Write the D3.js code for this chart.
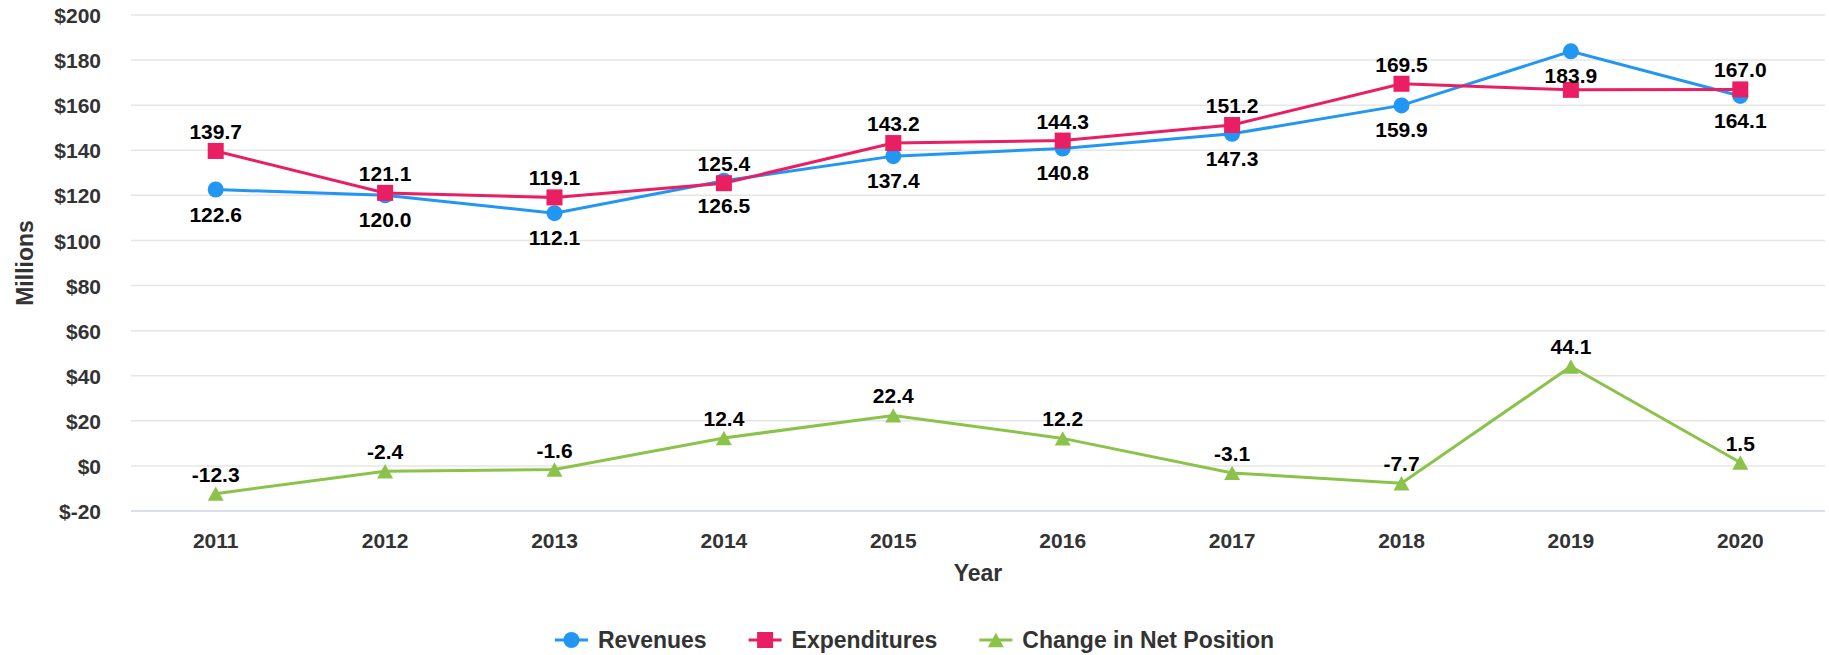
<!DOCTYPE html>
<html><head><meta charset="utf-8">
<script src="https://cdn.jsdelivr.net/npm/d3@7/dist/d3.min.js"></script>
<style>body{margin:0;background:#fff}svg{display:block;font-family:"Liberation Sans",Arial,Helvetica,sans-serif;font-weight:bold}</style>
</head><body><svg id="c" width="1829" height="655"></svg>
<script>
const years = ["2011","2012","2013","2014","2015","2016","2017","2018","2019","2020"];
const revenues = [122.6,120.0,112.1,126.5,137.4,140.8,147.3,159.9,183.9,164.1];
const expenditures = [139.7,121.1,119.1,125.4,143.2,144.3,151.2,169.5,166.8,167.0];
const changeNet = [-12.3,-2.4,-1.6,12.4,22.4,12.2,-3.1,-7.7,44.1,1.5];
const yTicks = [-20,0,20,40,60,80,100,120,140,160,180,200];
const seriesNames = ["Revenues","Expenditures","Change in Net Position"];
const hiddenLabels = {"Expenditures":["2019"]};

const svg = d3.select("#c");
const L=131,R=1825,T=15,B=511;
const x = d3.scaleBand().domain(years).range([L,R]);
const y = d3.scaleLinear().domain([-20,200]).range([B,T]);
const cx = d => x(d)+x.bandwidth()/2;

// grid
svg.append("g").selectAll("line").data(yTicks.filter(t=>t>-20)).join("line")
  .attr("x1",L).attr("x2",R).attr("y1",d=>y(d)).attr("y2",d=>y(d))
  .attr("stroke","#e6e6e6").attr("stroke-width",1.5);
svg.append("line").attr("x1",L).attr("x2",R).attr("y1",y(-20)).attr("y2",y(-20))
  .attr("stroke","#ccd6eb").attr("stroke-width",1.5);

// y axis labels
const ya = svg.append("g").attr("transform",`translate(${101},0)`)
  .call(d3.axisLeft(y).tickValues(yTicks).tickSize(0).tickPadding(0).tickFormat(d=>"$"+d));
ya.select(".domain").remove();
ya.selectAll("text").attr("font-size",21).attr("fill","#333").attr("font-family","inherit").attr("font-weight","bold").attr("dy","0.36em");

// x axis labels
const xa = svg.append("g").attr("transform",`translate(0,${B})`)
  .call(d3.axisBottom(x).tickSize(0).tickPadding(0));
xa.select(".domain").remove();
xa.selectAll("text").attr("font-size",21).attr("fill","#333").attr("font-family","inherit").attr("font-weight","bold").attr("dy","37px");

svg.append("text").attr("x",(L+R)/2).attr("y",581).attr("text-anchor","middle")
  .attr("font-size",23).attr("fill","#333").text("Year");
svg.append("text").attr("transform",`translate(33,${(T+B)/2}) rotate(-90)`).attr("text-anchor","middle")
  .attr("font-size",23).attr("fill","#333").text("Millions");

const series = [
  {name:seriesNames[0],vals:revenues,color:"#2196F3",shape:"circle",below:true},
  {name:seriesNames[1],vals:expenditures,color:"#E91E63",shape:"square",below:false},
  {name:seriesNames[2],vals:changeNet,color:"#8BC34A",shape:"triangle",below:false}
];
function marker(g,shape,color,size){
  if(shape==="circle") return g.append("circle").attr("r",size/2).attr("fill",color);
  if(shape==="square") return g.append("rect").attr("x",-size/2).attr("y",-size/2).attr("width",size).attr("height",size).attr("fill",color);
  const h=size*0.9;
  return g.append("path").attr("d",`M0,${-h/2}L${size/2},${h/2}L${-size/2},${h/2}Z`).attr("fill",color);
}
const line = d3.line().x(d=>cx(d[0])).y(d=>y(d[1]));
series.forEach(s=>{
  const pts = years.map((yr,i)=>[yr,s.vals[i]]);
  svg.append("path").attr("d",line(pts)).attr("fill","none").attr("stroke",s.color).attr("stroke-width",3);
});
series.forEach(s=>{
  const pts = years.map((yr,i)=>[yr,s.vals[i]]);
  pts.forEach(p=>{
    const g = svg.append("g").attr("transform",`translate(${cx(p[0])},${y(p[1])})`);
    marker(g,s.shape,s.color,16);
  });
});
series.forEach(s=>{
  const hid = hiddenLabels[s.name]||[];
  years.forEach((yr,i)=>{
    if(hid.includes(yr)) return;
    svg.append("text").attr("x",cx(yr)).attr("y",y(s.vals[i])+(s.below?32:-12))
      .attr("text-anchor","middle").attr("font-size",21).attr("fill","#000")
      .text(s.vals[i].toFixed(1));
  });
});

// legend
const lg = svg.append("g");
let lx = 0;
series.forEach(s=>{
  const g = lg.append("g").attr("transform",`translate(${lx},0)`);
  g.append("line").attr("x1",0).attr("x2",33).attr("stroke",s.color).attr("stroke-width",3);
  const m = g.append("g").attr("transform","translate(16.5,0)"); marker(m,s.shape,s.color,16);
  const t = g.append("text").attr("x",43).attr("dy","0.35em").attr("font-size",23).attr("fill","#333").text(s.name);
  const w = t.node().getComputedTextLength();
  lx += 43+w+42;
});
const totalW = lx-42;
lg.attr("transform",`translate(${(1829-totalW)/2},640)`);
</script></body></html>
